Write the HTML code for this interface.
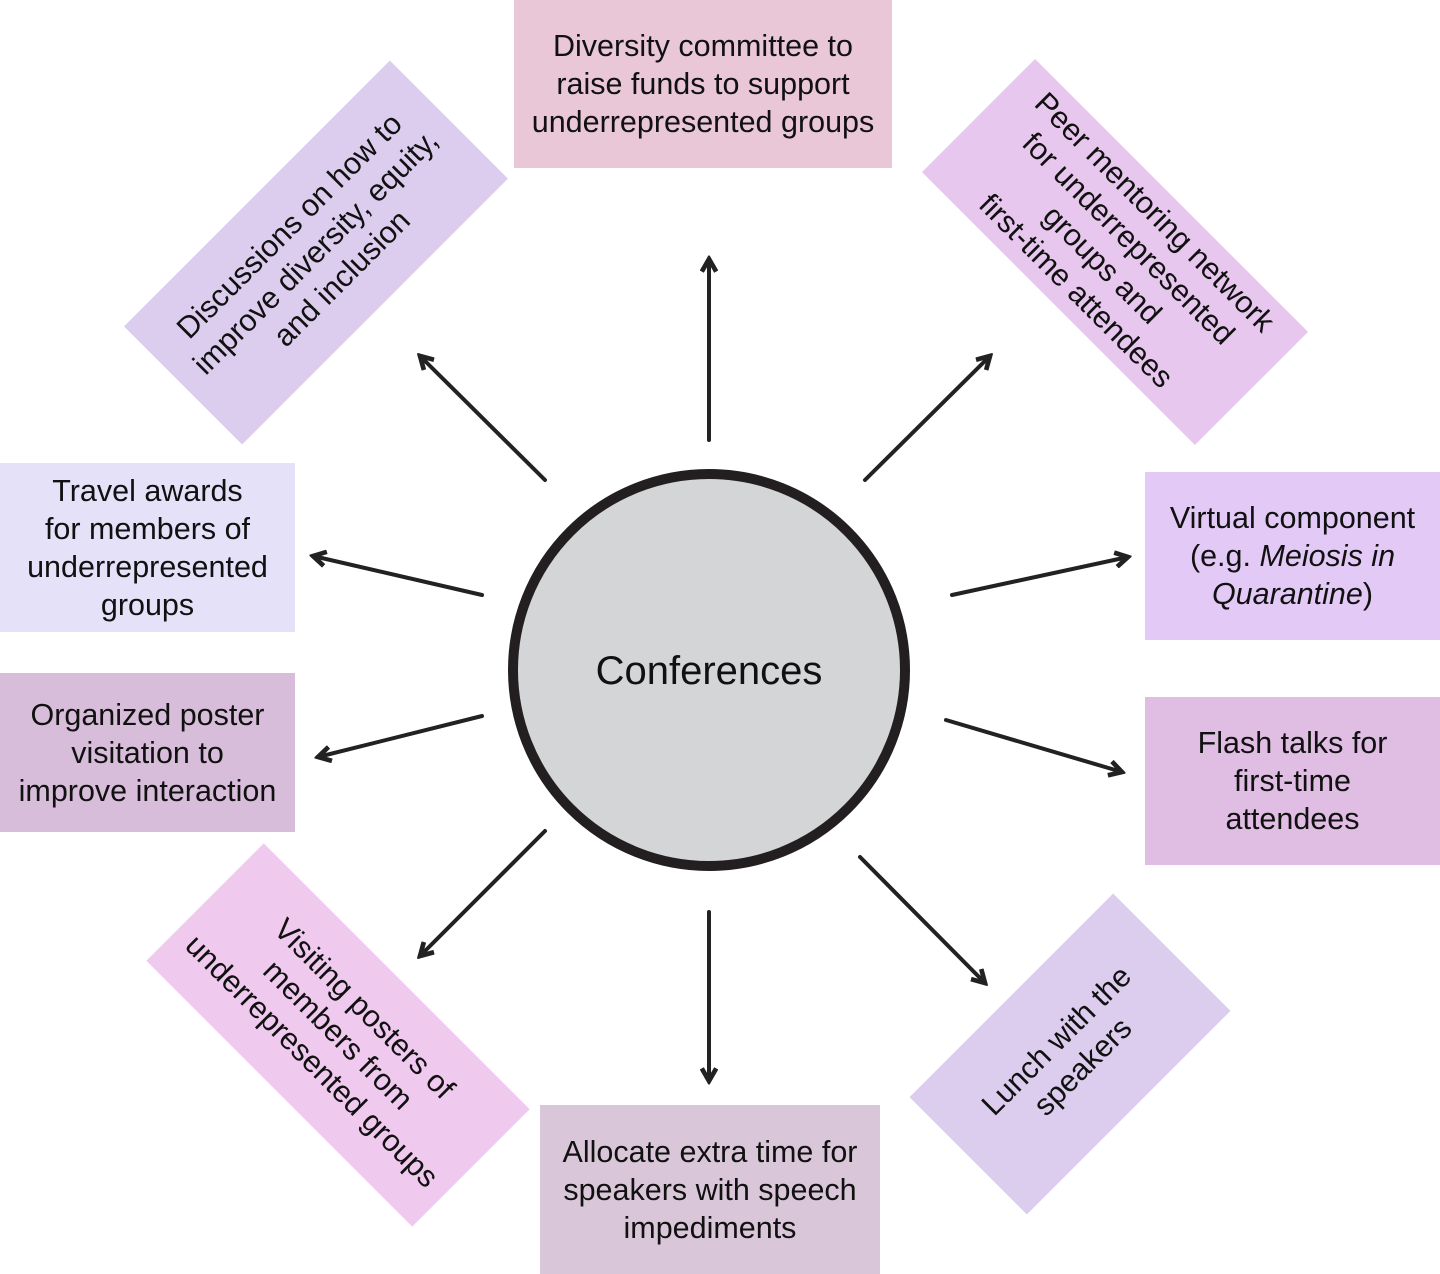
<!DOCTYPE html>
<html><head><meta charset="utf-8"><style>
body{margin:0;width:1440px;height:1274px;background:#fff;position:relative;overflow:hidden;font-family:"Liberation Sans",Arial,sans-serif;}
.b,.r{position:absolute;display:flex;align-items:center;justify-content:center;text-align:center;font-size:30.5px;line-height:38px;color:#111;box-sizing:border-box;white-space:nowrap;}
.r{transform-origin:center;line-height:37px;}
svg{position:absolute;left:0;top:0;}
</style></head><body>
<div class="b" style="left:514px;top:0;width:378px;height:168px;background:#e9c7d7;"><span>Diversity committee to<br>raise funds to support<br>underrepresented groups</span></div>
<div class="r" style="left:128px;top:169px;width:376px;height:167px;background:#dccdef;transform:rotate(-45deg);"><span>Discussions on how to<br>improve diversity, equity,<br>and inclusion</span></div>
<div class="r" style="left:922px;top:172px;width:386px;height:160px;background:#e8c7ef;transform:rotate(45deg);"><span>Peer mentoring network<br>for underrepresented<br>groups and<br>first-time attendees</span></div>
<div class="b" style="left:0;top:463px;width:295px;height:169px;background:#e5e1f8;"><span>Travel awards<br>for members of<br>underrepresented<br>groups</span></div>
<div class="b" style="left:0;top:673px;width:295px;height:159px;background:#d7bdd9;"><span>Organized poster<br>visitation to<br>improve interaction</span></div>
<div class="b" style="left:1145px;top:472px;width:295px;height:168px;background:#e3c9f5;"><span>Virtual component<br>(e.g. <i>Meiosis in</i><br><i>Quarantine</i>)</span></div>
<div class="b" style="left:1145px;top:697px;width:295px;height:168px;background:#e0bde3;"><span>Flash talks for<br>first-time<br>attendees</span></div>
<div class="b" style="left:540px;top:1105px;width:340px;height:169px;background:#d9c7d9;"><span>Allocate extra time for<br>speakers with speech<br>impediments</span></div>
<div class="r" style="left:150px;top:952px;width:376px;height:166px;background:#f0c9ef;transform:rotate(45deg);"><span>Visiting posters of<br>members from<br>underrepresented groups</span></div>
<div class="r" style="left:926px;top:971px;width:288px;height:166px;background:#dccdef;transform:rotate(-45deg);"><span>Lunch with the<br>speakers</span></div>
<svg width="1440" height="1274" viewBox="0 0 1440 1274">
<defs><marker id="a" viewBox="0 0 10 10" refX="8" refY="5" markerWidth="4.5" markerHeight="4.5" orient="auto" markerUnits="strokeWidth"><path d="M1,1 L8,5 L1,9" fill="none" stroke="#222" stroke-width="2.6"/></marker></defs>
<g stroke="#222" stroke-width="4" stroke-linecap="round" marker-end="url(#a)">
<line x1="709" y1="440" x2="709" y2="259"/>
<line x1="545" y1="480" x2="420" y2="356"/>
<line x1="865" y1="480" x2="990" y2="356"/>
<line x1="482" y1="595" x2="313" y2="556"/>
<line x1="482" y1="716" x2="318" y2="757"/>
<line x1="952" y1="595" x2="1128" y2="557"/>
<line x1="946" y1="720" x2="1122" y2="772"/>
<line x1="545" y1="831" x2="420" y2="956"/>
<line x1="709" y1="912" x2="709" y2="1081"/>
<line x1="860" y1="857" x2="985" y2="983"/>
</g>
<circle cx="709" cy="670" r="196" fill="#d4d5d7" stroke="#231f20" stroke-width="10"/>
<text x="709" y="684" text-anchor="middle" font-family="Liberation Sans, Arial, sans-serif" font-size="40" fill="#111">Conferences</text>
</svg>
</body></html>
